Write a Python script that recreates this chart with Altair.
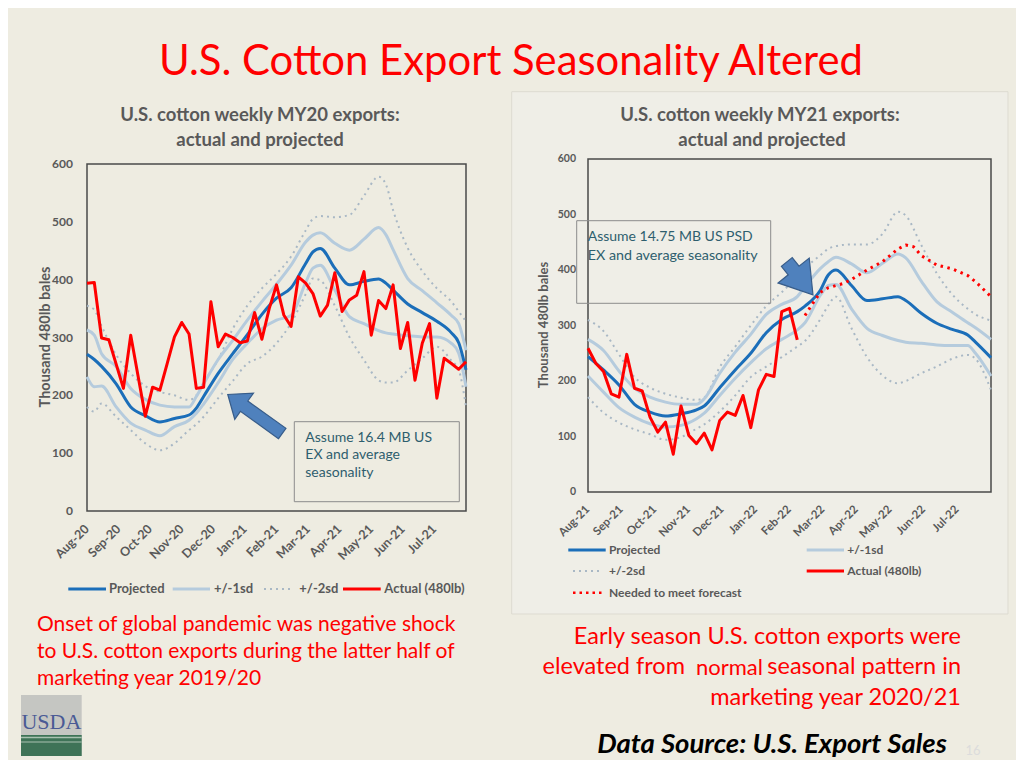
import altair as alt
import pandas as pd

# ---------------- data ----------------
MONTHS_MY20 = ["Aug-20", "Sep-20", "Oct-20", "Nov-20", "Dec-20", "Jan-21",
               "Feb-21", "Mar-21", "Apr-21", "May-21", "Jun-21", "Jul-21"]
MONTHS_MY21 = ["Aug-21", "Sep-21", "Oct-21", "Nov-21", "Dec-21", "Jan-22",
               "Feb-22", "Mar-22", "Apr-22", "May-22", "Jun-22", "Jul-22"]
Y_TICKS = [0, 100, 200, 300, 400, 500, 600]

# MY20 (left) - week index of the marketing year
L_WEEKS = [0, 1, 2, 4, 6, 8, 10, 12, 14, 15, 16, 18, 20, 22, 24, 26, 28, 30, 31, 32,
           34, 36, 38, 40, 41, 42, 44, 46, 48, 50, 51, 52]
L_PROJ = [271, 262, 250, 220, 180, 165, 154, 160, 166, 178, 198, 238, 272, 305, 340, 368,
          386, 428, 448, 454, 420, 391, 397, 401, 394, 382, 358, 343, 328, 308, 291, 244]
L_UP1 = [313, 304, 272, 250, 212, 193, 183, 180, 180, 198, 220, 262, 295, 330, 362, 392,
         425, 465, 477, 481, 463, 451, 470, 490, 478, 452, 402, 381, 360, 338, 324, 278]
L_LO1 = [232, 215, 216, 180, 152, 140, 130, 146, 157, 169, 185, 222, 262, 290, 315, 330,
         338, 395, 420, 425, 382, 336, 324, 312, 308, 306, 303, 301, 301, 290, 273, 215]
L_UP2 = [355, 348, 320, 270, 238, 216, 206, 200, 192, 200, 222, 262, 315, 355, 385, 410,
         440, 485, 505, 510, 508, 512, 545, 578, 565, 520, 455, 415, 385, 362, 345, 328]
L_LO2 = [180, 172, 186, 163, 140, 117, 105, 117, 140, 150, 163, 195, 225, 255, 267, 290,
         325, 375, 402, 399, 355, 301, 261, 226, 222, 222, 243, 264, 284, 260, 244, 180]
L_ACT_WEEKS = list(range(53))
L_ACT = [394, 395, 299, 296, 254, 212, 304, 234, 164, 214, 209, 255, 301, 326, 306, 212,
         214, 362, 284, 306, 300, 291, 294, 343, 297, 350, 391, 339, 319, 405, 394, 376,
         337, 356, 412, 345, 365, 373, 414, 304, 364, 350, 391, 281, 326, 226, 290, 324,
         195, 264, 255, 245, 258]

# MY21 (right)
R_WEEKS = [0, 2, 4, 6, 8, 10, 12, 14, 15, 17, 19, 21, 23, 25, 27, 28, 30, 31, 32, 34,
           36, 38, 40, 41, 43, 45, 47, 49, 50, 52]
R_PROJ = [244, 220, 193, 158, 144, 137, 141, 148, 155, 188, 220, 250, 287, 311, 325, 335,
          364, 391, 400, 372, 345, 348, 352, 345, 322, 304, 293, 283, 270, 242]
R_UP1 = [275, 255, 218, 187, 171, 162, 158, 158, 168, 214, 252, 284, 320, 338, 352, 370,
         403, 415, 423, 411, 395, 412, 429, 422, 380, 343, 324, 305, 296, 275]
R_LO1 = [209, 180, 152, 135, 123, 117, 120, 132, 142, 174, 205, 233, 258, 275, 292, 305,
         355, 372, 374, 330, 295, 282, 273, 270, 268, 265, 264, 264, 250, 209]
R_UP2 = [310, 290, 248, 207, 188, 177, 170, 166, 170, 225, 262, 300, 335, 360, 388, 403,
         427, 438, 443, 446, 446, 465, 505, 498, 445, 394, 356, 330, 320, 309]
R_LO2 = [171, 143, 125, 113, 104, 94, 99, 114, 122, 145, 174, 207, 226, 243, 262, 272,
         312, 336, 352, 295, 243, 210, 196, 200, 214, 226, 240, 247, 240, 184]
R_ACT_WEEKS = list(range(28))
R_ACT = [259, 232, 217, 177, 171, 248, 187, 182, 135, 108, 126, 68, 155, 102, 87, 106,
         76, 129, 144, 138, 174, 116, 184, 212, 208, 325, 331, 274]
R_NEED_WEEKS = [28, 29, 30, 31, 32, 33, 34, 36, 38, 40, 41, 42, 43, 45, 47, 49, 50, 52]
R_NEED = [318, 340, 360, 368, 372, 376, 383, 400, 415, 438, 445, 442, 426, 409, 402,
          390, 379, 352]

WEEKS_IN_YEAR = 52

# ---------------- styles ----------------
BG = "#EEECE1"
FONT = "Lato"
GRAY = "#595959"
RED = "#FF0000"
PROJ_C = "#1B6EB9"
SD1_C = "#B5CBDD"
SD2_C = "#A9B8C5"
FRAME_C = "#4A4A4A"
BOX_TXT = "#2E5E6E"

XL = alt.Scale(domain=[0, 52], range=[79, 458], nice=False, zero=False)
YL = alt.Scale(domain=[0, 600], range=[503, 156], nice=False)
XR = alt.Scale(domain=[0, 52], range=[580, 983], nice=False, zero=False)
YR = alt.Scale(domain=[0, 600], range=[484, 151], nice=False)

ONE = pd.DataFrame({"a": [0]})


def line_layer(weeks, values, xs, ys, color, width, dash=None, interp="monotone"):
    df = pd.DataFrame({"w": weeks, "v": values})
    mk = dict(color=color, strokeWidth=width, interpolate=interp, strokeJoin="round")
    if dash is not None:
        mk["strokeDash"] = dash
    return alt.Chart(df).mark_line(**mk).encode(
        x=alt.X("w:Q", scale=xs, axis=None),
        y=alt.Y("v:Q", scale=ys, axis=None),
    )


def label(text, x, y, size, color=GRAY, weight="normal", align="left",
          baseline="middle", angle=0, font=FONT, style="normal"):
    return alt.Chart(pd.DataFrame({"t": [text]})).mark_text(
        align=align, baseline=baseline, font=font, fontSize=size,
        fontWeight=weight, fontStyle=style, color=color, angle=angle,
    ).encode(x=alt.value(x), y=alt.value(y), text="t:N")


def box(x0, y0, x1, y1, fill="transparent", stroke="transparent", sw=0):
    return alt.Chart(ONE).mark_rect(fill=fill, stroke=stroke, strokeWidth=sw).encode(
        x=alt.value(x0), x2=alt.value(x1), y=alt.value(y0), y2=alt.value(y1))


def hrule(x0, x1, y, color, width, dash=None):
    mk = dict(color=color, strokeWidth=width)
    if dash is not None:
        mk["strokeDash"] = dash
    return alt.Chart(ONE).mark_rule(**mk).encode(
        x=alt.value(x0), x2=alt.value(x1), y=alt.value(y))


def frame(xs, ys):
    df = pd.DataFrame({"x0": [0], "x1": [WEEKS_IN_YEAR], "y0": [0], "y1": [600]})
    return alt.Chart(df).mark_rect(fill="transparent", stroke=FRAME_C, strokeWidth=1.5).encode(
        x=alt.X("x0:Q", scale=xs, axis=None), x2="x1:Q",
        y=alt.Y("y0:Q", scale=ys, axis=None), y2="y1:Q")


def y_ticks(ys, xpix, size):
    df = pd.DataFrame({"t": Y_TICKS})
    return alt.Chart(df).mark_text(align="right", baseline="middle", font=FONT,
                                   fontSize=size, fontWeight="bold", color=GRAY).encode(
        y=alt.Y("t:Q", scale=ys, axis=None), x=alt.value(xpix), text="t:Q")


def x_ticks(months, xs, ypix, size):
    df = pd.DataFrame({"m": months,
                       "w": [i * WEEKS_IN_YEAR / len(months) for i in range(len(months))]})
    return alt.Chart(df).mark_text(align="right", baseline="middle", font=FONT,
                                   fontSize=size, fontWeight="bold", color=GRAY,
                                   angle=315).encode(
        x=alt.X("w:Q", scale=xs, axis=None), y=alt.value(ypix), text="m:N")


def arrow(cx, cy, path, size, angle):
    return alt.Chart(ONE).mark_point(shape=path, filled=True, fill="#4F81BD",
                                     stroke="#385D8A", strokeWidth=1.2, opacity=1,
                                     size=size, angle=angle).encode(
        x=alt.value(cx), y=alt.value(cy))


ARROW_LONG = "M -1 -0.19 L 0.4 -0.19 L 0.4 -0.48 L 1 0 L 0.4 0.48 L 0.4 0.19 L -1 0.19 Z"
ARROW_FAT = "M -1 -0.33 L -0.48 -0.33 L -0.48 -0.95 L 1 0 L -0.48 0.95 L -0.48 0.33 L -1 0.33 Z"

layers = []

# right panel background box
layers.append(box(503.7, 83.7, 1000, 606, fill="#EFEEE7", stroke="#DDDBD1", sw=1))

# ---------------- title ----------------
layers.append(label("U.S. Cotton Export Seasonality Altered", 503, 54, 41.8, color=RED,
                    align="center"))

# ---------------- left chart ----------------
layers.append(label("U.S. cotton weekly MY20 exports:", 252, 107, 18.5, weight="bold",
                    align="center"))
layers.append(label("actual and projected", 252, 132, 18.5, weight="bold", align="center"))
layers.append(frame(XL, YL))
layers.append(line_layer(L_WEEKS, L_UP2, XL, YL, SD2_C, 2, dash=[2, 4]))
layers.append(line_layer(L_WEEKS, L_LO2, XL, YL, SD2_C, 2, dash=[2, 4]))
layers.append(line_layer(L_WEEKS, L_UP1, XL, YL, SD1_C, 3))
layers.append(line_layer(L_WEEKS, L_LO1, XL, YL, SD1_C, 3))
layers.append(line_layer(L_WEEKS, L_PROJ, XL, YL, PROJ_C, 3))
layers.append(line_layer(L_ACT_WEEKS, L_ACT, XL, YL, RED, 3, interp="linear"))
layers.append(y_ticks(YL, 65, 12))
layers.append(x_ticks(MONTHS_MY20, XL, 519, 12.5))
layers.append(label("Thousand 480lb bales", 38, 329, 14.5, weight="bold", angle=270,
                    align="center"))
# left annotation
layers.append(box(286.3, 413.7, 451.3, 493.7, stroke="#8C8C8C", sw=1))
layers.append(label("Assume 16.4 MB US", 297.3, 433.5, 14, color=BOX_TXT,
                    baseline="alphabetic"))
layers.append(label("EX and average", 297.3, 451, 14, color=BOX_TXT, baseline="alphabetic"))
layers.append(label("seasonality", 297.3, 468.5, 14, color=BOX_TXT, baseline="alphabetic"))
layers.append(arrow(247, 406, ARROW_LONG, 4489, 215.6))
# left legend
layers.append(hrule(60.3, 98, 581, PROJ_C, 3))
layers.append(label("Projected", 101, 581, 13, weight="bold"))
layers.append(hrule(164.7, 202, 581, SD1_C, 3))
layers.append(label("+/-1sd", 206, 581, 13, weight="bold"))
layers.append(hrule(256, 283.7, 581, SD2_C, 2, dash=[2, 4]))
layers.append(label("+/-2sd", 291.3, 581, 13, weight="bold"))
layers.append(hrule(335, 372.7, 581, RED, 3))
layers.append(label("Actual (480lb)", 376.3, 581, 13, weight="bold"))

# ---------------- right chart ----------------
layers.append(label("U.S. cotton weekly MY21 exports:", 752, 107, 18.5, weight="bold",
                    align="center"))
layers.append(label("actual and projected", 754, 132, 18.5, weight="bold", align="center"))
layers.append(frame(XR, YR))
layers.append(line_layer(R_WEEKS, R_UP2, XR, YR, SD2_C, 2, dash=[2, 4]))
layers.append(line_layer(R_WEEKS, R_LO2, XR, YR, SD2_C, 2, dash=[2, 4]))
layers.append(line_layer(R_WEEKS, R_UP1, XR, YR, SD1_C, 3))
layers.append(line_layer(R_WEEKS, R_LO1, XR, YR, SD1_C, 3))
layers.append(line_layer(R_WEEKS, R_PROJ, XR, YR, PROJ_C, 3))
layers.append(line_layer(R_ACT_WEEKS, R_ACT, XR, YR, RED, 3, interp="linear"))
layers.append(line_layer(R_NEED_WEEKS, R_NEED, XR, YR, RED, 3, dash=[2.5, 4.5],
                         interp="linear"))
layers.append(y_ticks(YR, 568, 10.5))
layers.append(x_ticks(MONTHS_MY21, XR, 500, 11.5))
layers.append(label("Thousand 480lb bales", 536, 317, 13, weight="bold", angle=270,
                    align="center"))
# right annotation
layers.append(box(568.7, 212.7, 762.7, 295.3, stroke="#8C8C8C", sw=1))
layers.append(label("Assume 14.75 MB US PSD", 579.7, 232.7, 14, color=BOX_TXT,
                    baseline="alphabetic"))
layers.append(label("EX and average seasonality", 579.7, 252, 14.3, color=BOX_TXT,
                    baseline="alphabetic"))
layers.append(arrow(791.9, 270.4, ARROW_FAT, 1764, 51.5))
# right legend
layers.append(hrule(560.3, 597.7, 542, PROJ_C, 3))
layers.append(label("Projected", 601, 542, 12, weight="bold"))
layers.append(hrule(798.7, 836, 542, SD1_C, 3))
layers.append(label("+/-1sd", 839.3, 542, 12, weight="bold"))
layers.append(hrule(565, 594.7, 563, SD2_C, 2, dash=[2, 4]))
layers.append(label("+/-2sd", 601, 563, 12, weight="bold"))
layers.append(hrule(798.7, 836, 563, RED, 3))
layers.append(label("Actual (480lb)", 839.3, 563, 12, weight="bold"))
layers.append(hrule(565, 594.7, 584.7, RED, 2.5, dash=[2.5, 4]))
layers.append(label("Needed to meet forecast", 601, 584.7, 12, weight="bold"))

# ---------------- bottom texts ----------------
layers.append(label("Onset of global pandemic was negative shock", 29, 617, 21, color=RED))
layers.append(label("to U.S. cotton exports during the latter half of", 29, 644, 21,
                    color=RED))
layers.append(label("marketing year 2019/20", 29, 671, 21, color=RED))

layers.append(label("Early season U.S. cotton exports were", 953, 629, 23.5, color=RED,
                    align="right"))
layers.append(label("seasonal pattern in", 953, 659, 23.5, color=RED, align="right"))
layers.append(label("normal", 755, 660, 22, color=RED, align="right"))
layers.append(label("elevated from", 677, 659, 23.5, color=RED, align="right"))
layers.append(label("marketing year 2020/21", 953, 690, 23.5, color=RED, align="right"))

layers.append(label("Data Source: U.S. Export Sales", 764, 737, 27.5, color="#000000",
                    weight="bold", style="italic", align="center"))
layers.append(label("16", 965, 743, 13, color="#DCDCDC", align="center"))

# USDA logo
layers.append(box(13, 687, 73.7, 748, fill="#C5C6C2"))
layers.append(box(13, 727, 73.7, 748, fill="#3E7357"))
layers.append(hrule(13, 73.7, 729.5, "#A9C2B1", 1.5))
layers.append(hrule(13, 73.7, 734, "#A9C2B1", 1.2))
layers.append(label("USDA", 43.4, 714, 22, color="#4A5A95", align="center",
                    font="Liberation Serif"))

chart = alt.layer(*layers).resolve_scale(x="independent", y="independent").properties(
    width=1008, height=752, padding=0, autosize="none", background=BG
).configure_view(strokeWidth=0)

chart.save("out.html", embed_options={"renderer": "svg", "actions": False})
